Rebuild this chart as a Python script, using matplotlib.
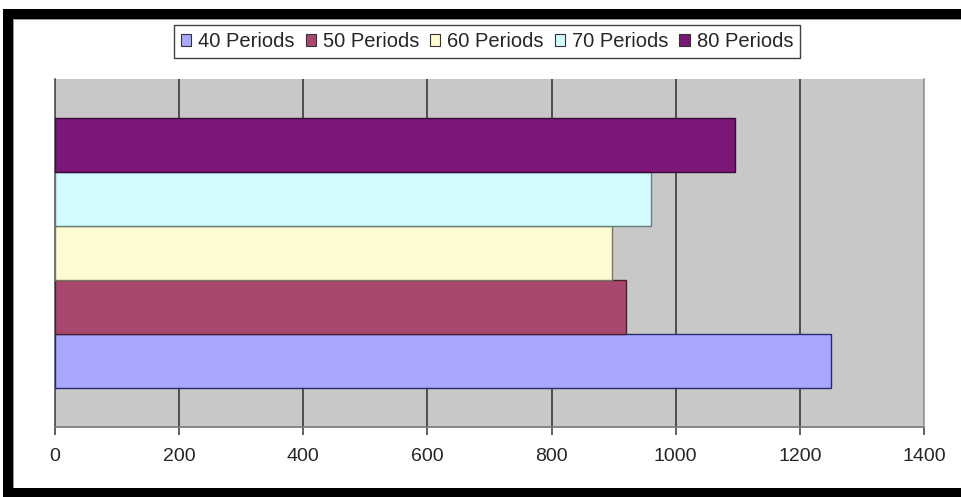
import matplotlib.pyplot as plt
from matplotlib.patches import Patch, Rectangle

plt.rcParams['font.family'] = ['Liberation Sans', 'DejaVu Sans']

# one category, five clustered bars
series = ['40 Periods', '50 Periods', '60 Periods', '70 Periods', '80 Periods']
values = [1250, 920, 898, 960, 1095]
colors = ['#a8a8fc', '#a9486f', '#fffbd0', '#d0fcfd', '#7b1877']
edges = ['#2a2a70', '#4a2030', '#7a7a60', '#6a7a7a', '#3a0a3a']
xticks = [0, 200, 400, 600, 800, 1000, 1200, 1400]

W, H = 961, 497
fig = plt.figure(figsize=(W / 100, H / 100), dpi=100)
fig.patch.set_facecolor('white')

ax = fig.add_axes([55 / W, 1 - 427 / H, 869 / W, 348 / H])
ax.set_facecolor('#c8c8c8')

bar_h = 0.155
for i, (name, v, c, e) in enumerate(zip(series, values, colors, edges)):
    ax.barh((i - 2) * bar_h, v, height=bar_h, color=c, edgecolor=e,
            linewidth=1.0, label=name, zorder=3)

ax.set_xlim(0, 1400)
ax.set_ylim(-0.5, 0.5)
ax.set_xticks(xticks)
ax.set_xticklabels([str(t) for t in xticks], fontsize=14, color='#262626')
ax.set_yticks([])
ax.tick_params(axis='x', length=6, width=1.2, color='#444444', pad=9)
ax.grid(axis='x', color='#444444', linewidth=1.3, zorder=1)
ax.set_axisbelow(True)

ax.spines['top'].set_visible(False)
ax.spines['right'].set_color('#a0a0a0')
ax.spines['right'].set_linewidth(1.2)
ax.spines['left'].set_color('#555555')
ax.spines['left'].set_linewidth(1.2)
ax.spines['bottom'].set_color('#777777')
ax.spines['bottom'].set_linewidth(1.2)

handles = [Patch(facecolor=c, edgecolor='#333333', linewidth=0.8) for c in colors]
leg = fig.legend(handles, series, loc='center', bbox_to_anchor=(487 / W, 1 - 41.5 / H),
                 ncol=5, fontsize=14.5, frameon=True, fancybox=False,
                 handlelength=0.5, handleheight=0.5, handletextpad=0.35,
                 columnspacing=0.55, borderpad=0.35, borderaxespad=0)
leg.get_frame().set_edgecolor('#111111')
leg.get_frame().set_linewidth(1.0)
for t in leg.get_texts():
    t.set_color('#262626')

# black border along top, left and bottom
def px_rect(x0, y0, x1, y1, color):
    fig.add_artist(Rectangle((x0 / W, 1 - y1 / H), (x1 - x0) / W, (y1 - y0) / H,
                             transform=fig.transFigure, facecolor=color,
                             edgecolor='none', zorder=10))

px_rect(3, 9, W, 19, 'black')
px_rect(3, 9, 13, H, 'black')
px_rect(3, 488, W, H, 'black')
px_rect(13, 19, W, 20, '#9a9a9a')
px_rect(13, 19, 14, 488, '#9a9a9a')

fig.savefig('out.png', dpi=100)
